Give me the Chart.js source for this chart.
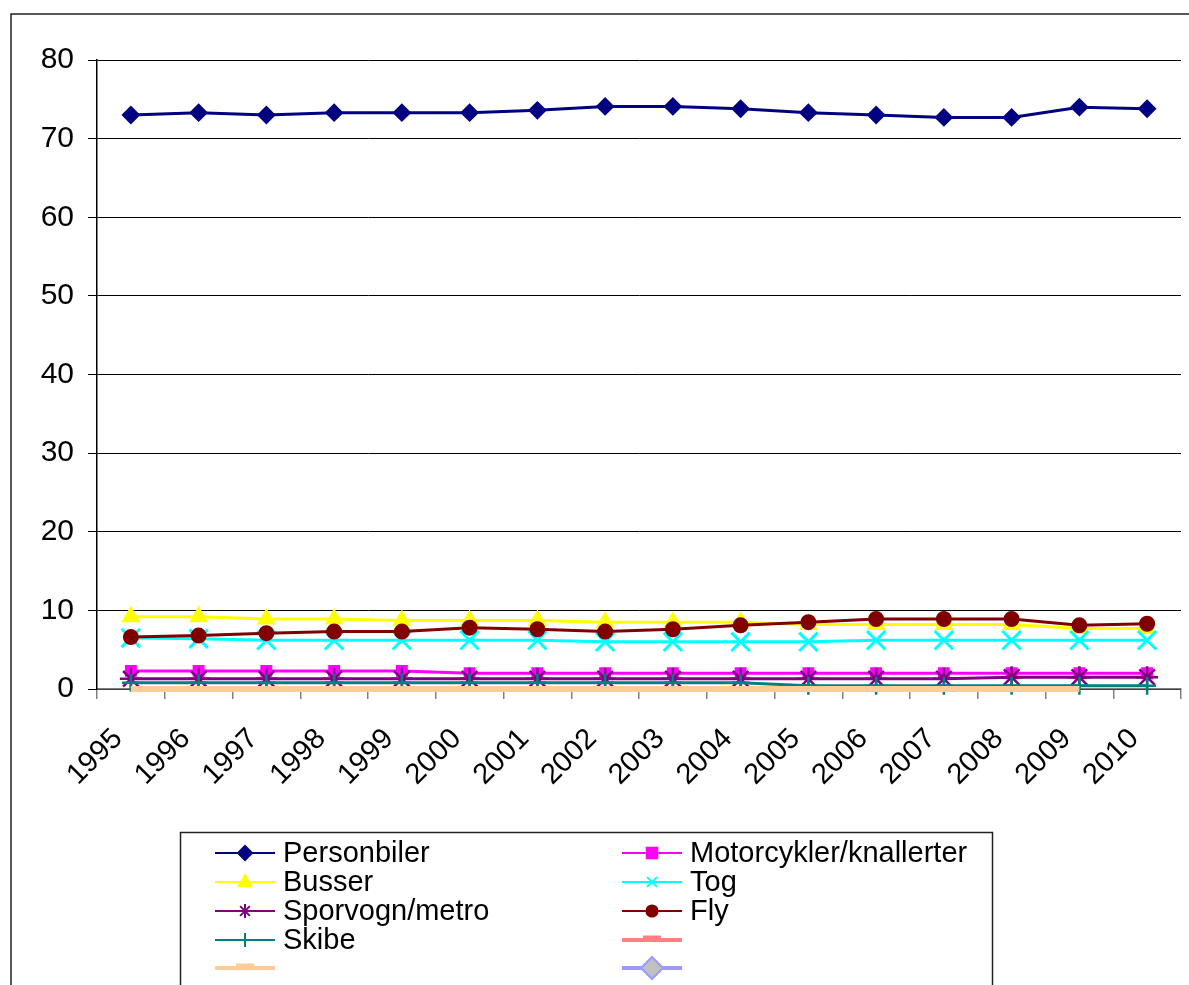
<!DOCTYPE html>
<html>
  <head>
    <meta charset="utf-8"/>
    <script src="https://cdn.jsdelivr.net/npm/chart.js@4.4.1/dist/chart.umd.min.js"></script>
    <style>
      html, body { margin: 0; padding: 0; background: #fff; overflow: hidden; }
      #holder { width: 1197px; height: 985px; }
    </style>
  </head>
  <body>
    <div id="holder"><canvas id="chart-area"></canvas></div>
    <script>
      // values
      var years = ['1995','1996','1997','1998','1999','2000','2001','2002','2003','2004','2005','2006','2007','2008','2009','2010'];
      var yTicks = [0, 10, 20, 30, 40, 50, 60, 70, 80];
      var personbiler = [73.0, 73.3, 73.0, 73.3, 73.3, 73.3, 73.6, 74.1, 74.1, 73.8, 73.3, 73.0, 72.7, 72.7, 74.0, 73.8];
      var motorcykler = [2.3, 2.3, 2.3, 2.3, 2.3, 2.0, 2.0, 2.0, 2.0, 2.0, 2.0, 2.0, 2.0, 2.0, 2.0, 2.0];
      var busser = [9.2, 9.2, 8.9, 8.9, 8.7, 8.7, 8.7, 8.5, 8.5, 8.5, 8.2, 8.2, 8.2, 8.2, 7.7, 7.7];
      var tog = [6.5, 6.4, 6.2, 6.2, 6.2, 6.2, 6.2, 6.0, 6.0, 6.0, 6.0, 6.2, 6.2, 6.2, 6.2, 6.2];
      var sporvogn = [1.3, 1.3, 1.3, 1.3, 1.3, 1.3, 1.3, 1.3, 1.3, 1.3, 1.3, 1.3, 1.3, 1.5, 1.5, 1.5];
      var fly = [6.6, 6.8, 7.1, 7.3, 7.3, 7.8, 7.6, 7.3, 7.6, 8.1, 8.5, 8.9, 8.9, 8.9, 8.1, 8.3];
      var skibe = [0.8, 0.8, 0.8, 0.8, 0.8, 0.8, 0.8, 0.8, 0.8, 0.8, 0.4, 0.4, 0.4, 0.4, 0.4, 0.4];
      var ekstra = [0, 0, 0, 0, 0, 0, 0, 0, 0, 0, 0, 0, 0, 0, 0, null];

      var FONT = "'Liberation Sans', Arial, sans-serif";

      function series(label, data, color, style, radius, extra) {
        var ds = {
          label: label, data: data,
          borderColor: color, backgroundColor: color,
          pointBackgroundColor: color, pointBorderColor: color,
          borderWidth: 3, pointRadius: radius, pointStyle: style,
          pointBorderWidth: 2, tension: 0, spanGaps: false, clip: 12
        };
        for (var k in extra) ds[k] = extra[k];
        return ds;
      }

      var datasets = [
        series('Personbiler', personbiler, '#000080', 'rectRot', 8),
        series('Motorcykler/knallerter', motorcykler, '#FF00FF', 'rect', 7),
        series('Busser', busser, '#FFFF00', 'triangle', 9),
        series('Tog', tog, '#00FFFF', 'crossRot', 13, {pointBorderWidth: 3}),
        series('Sporvogn/metro', sporvogn, '#800080', 'star', 11, {pointBorderWidth: 2.5}),
        series('Fly', fly, '#800000', 'circle', 7),
        series('Skibe', skibe, '#008080', 'cross', 9, {pointBorderWidth: 2.5}),
        series('', [], '#FF8080', 'dash', 0, {borderWidth: 6}),
        series('', ekstra, '#FFCC99', 'dash', 0, {borderWidth: 6}),
        series('', [], '#9999FF', 'rectRot', 0, {borderWidth: 6}),
        series('', [], '#99CCFF', 'dash', 0, {borderWidth: 6})
      ];
      // later series on top, like the original
      datasets.forEach(function(d, i) { d.order = datasets.length - i; });

      function drawMarker(ctx, style, x, y, r, fill, stroke) {
        ctx.save();
        ctx.fillStyle = fill;
        ctx.strokeStyle = stroke;
        ctx.lineWidth = 2;
        ctx.beginPath();
        if (style === 'rectRot') {
          ctx.moveTo(x, y - r); ctx.lineTo(x + r, y); ctx.lineTo(x, y + r); ctx.lineTo(x - r, y); ctx.closePath();
          ctx.fill(); ctx.stroke();
        } else if (style === 'rect') {
          ctx.rect(x - r * 0.75, y - r * 0.75, r * 1.5, r * 1.5); ctx.fill(); ctx.stroke();
        } else if (style === 'triangle') {
          ctx.moveTo(x, y - r); ctx.lineTo(x + r * 0.9, y + r * 0.6); ctx.lineTo(x - r * 0.9, y + r * 0.6); ctx.closePath();
          ctx.fill(); ctx.stroke();
        } else if (style === 'circle') {
          ctx.arc(x, y, r * 0.8, 0, Math.PI * 2); ctx.fill(); ctx.stroke();
        } else if (style === 'crossRot' || style === 'star') {
          var d = r * 0.7;
          ctx.moveTo(x - d, y - d); ctx.lineTo(x + d, y + d);
          ctx.moveTo(x - d, y + d); ctx.lineTo(x + d, y - d);
          if (style === 'star') { ctx.moveTo(x, y - r); ctx.lineTo(x, y + r); }
          ctx.stroke();
        } else if (style === 'cross') {
          ctx.moveTo(x - r, y); ctx.lineTo(x + r, y);
          ctx.moveTo(x, y - r); ctx.lineTo(x, y + r);
          ctx.stroke();
        } else if (style === 'dash') {
          ctx.lineWidth = 5;
          ctx.moveTo(x - 9, y - 2); ctx.lineTo(x + 9, y - 2);
          ctx.stroke();
        }
        ctx.restore();
      }

      // the whole framed area and the two-column legend box
      var frame = {
        id: 'frame',
        beforeDraw: function(chart) {
          var ctx = chart.ctx;
          ctx.save();
          ctx.fillStyle = '#fff';
          ctx.fillRect(0, 0, chart.width, chart.height);
          ctx.strokeStyle = '#222';
          ctx.lineWidth = 1.5;
          ctx.strokeRect(11, 14, 1300, 1100);
          ctx.restore();
        },
        afterDraw: function(chart) {
          var ctx = chart.ctx;
          ctx.save();
          ctx.strokeStyle = '#222';
          ctx.lineWidth = 1.5;
          ctx.strokeRect(180.5, 832.5, 812, 300);
          var cols = [215, 622];
          var rowY = [853, 882, 911, 940, 968, 997];
          ctx.font = '29px ' + FONT;
          ctx.textBaseline = 'middle';
          ctx.fillStyle = '#000';
          chart.data.datasets.forEach(function(ds, i) {
            var x = cols[i % 2];
            var y = rowY[Math.floor(i / 2)];
            ctx.save();
            ctx.strokeStyle = ds.borderColor;
            ctx.lineWidth = ds.borderWidth === 6 ? 4 : 2;
            ctx.beginPath();
            ctx.moveTo(x, y); ctx.lineTo(x + 60, y);
            ctx.stroke();
            ctx.restore();
            if (ds.label === '' && ds.pointStyle === 'rectRot') {
              drawMarker(ctx, 'rectRot', x + 30, y, 11, '#C0C0C0', ds.borderColor);
            } else if (ds.label === '') {
              drawMarker(ctx, 'dash', x + 30, y, 9, ds.borderColor, ds.borderColor);
            } else {
              drawMarker(ctx, ds.pointStyle, x + 30, y, 7, ds.borderColor, ds.borderColor);
            }
            if (ds.label) ctx.fillText(ds.label, x + 68, y + 1);
          });
          ctx.restore();
        }
      };

      var ctx = document.getElementById('chart-area').getContext('2d');
      var chart = new Chart(ctx, {
        type: 'line',
        data: { labels: years, datasets: datasets },
        plugins: [frame],
        options: {
          responsive: true,
          maintainAspectRatio: false,
          animation: false,
          layout: { padding: { left: 0, top: 60, right: 1, bottom: 0 } },
          plugins: { legend: { display: false }, tooltip: { enabled: false } },
          scales: {
            x: {
              offset: true,
              grid: { offset: true, drawOnChartArea: false, color: '#808080', tickLength: 10, lineWidth: 1.5 },
              border: { color: '#808080', width: 1.5 },
              ticks: {
                color: '#000', font: { family: FONT, size: 29 },
                minRotation: 45, maxRotation: 45, autoSkip: false, padding: 23, labelOffset: -13
              },
              afterFit: function(scale) {
                scale.height = 296;
                scale.paddingLeft = 0;
                scale.paddingRight = 0;
              }
            },
            y: {
              min: 0, max: 80,
              afterBuildTicks: function(scale) {
                scale.ticks = yTicks.map(function(v) { return { value: v }; });
              },
              grid: { color: '#000', tickLength: 9, lineWidth: 1 },
              border: { color: '#000', width: 1.5 },
              ticks: { color: '#000', font: { family: FONT, size: 30 }, padding: 14 },
              afterFit: function(scale) { scale.width = 97; }
            }
          }
        }
      });
    </script>
  </body>
</html>
